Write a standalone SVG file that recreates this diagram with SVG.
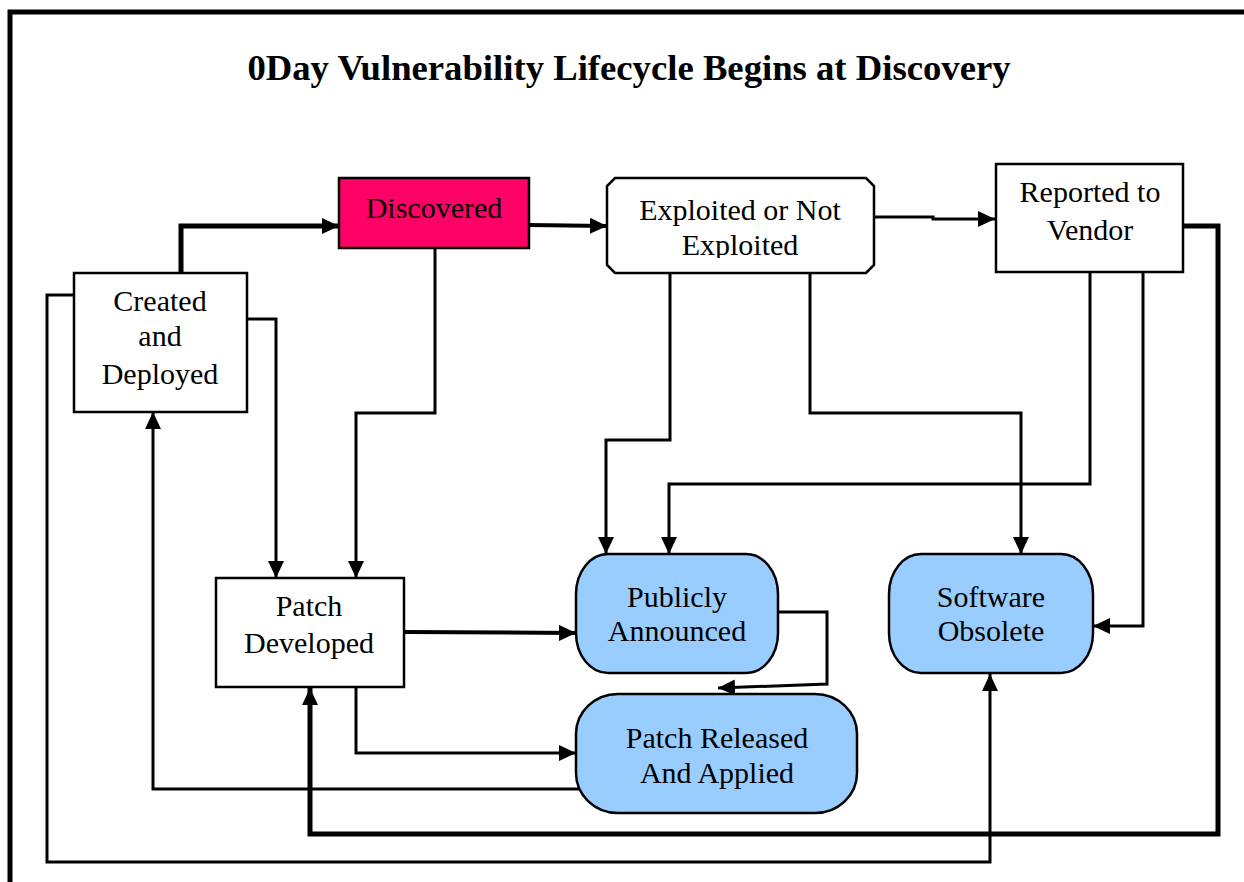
<svg xmlns="http://www.w3.org/2000/svg" width="1244" height="882" viewBox="0 0 1244 882">
<style>
.txt{font-family:"Liberation Serif","Times New Roman",serif;font-size:30px;fill:#000;text-anchor:middle}
.title{font-family:"Liberation Serif","Times New Roman",serif;font-size:36.7px;font-weight:bold;fill:#000;text-anchor:middle}
.box{fill:#fff;stroke:#000;stroke-width:2.5}
.blue{fill:#99CCFF;stroke:#000;stroke-width:2.5}
.c{fill:none;stroke:#000;stroke-width:3;marker-end:url(#arr)}
.thick{stroke-width:5}
.mid{stroke-width:4}
</style>
<defs>
<marker id="arr" markerUnits="userSpaceOnUse" markerWidth="17" markerHeight="16" refX="17" refY="8" orient="auto" viewBox="0 0 17 16">
<path d="M0,0 L17,8 L0,16 z" fill="#000"/>
</marker>
<clipPath id="clipExp"><rect x="600" y="170" width="280" height="88"/></clipPath>
</defs>
<rect x="0" y="0" width="1244" height="882" fill="#fff"/>
<path d="M10,882 V12 H1244" fill="none" stroke="#000" stroke-width="5"/>
<text class="title" x="629" y="80">0Day Vulnerability Lifecycle Begins at Discovery</text>

<g id="connectors">
<path class="c thick" d="M181,272 V226 H339"/>
<path class="c mid" d="M529,225 L607,226"/>
<path class="c" d="M873,217 H933 V219 H995"/>
<path class="c" d="M247,319 H276 V578"/>
<path class="c" d="M435,249 V413 H356 V578"/>
<path class="c" d="M670,272 V440 H606 V554"/>
<path class="c" d="M810,272 V413 H1021 V554"/>
<path class="c" d="M1090,272 V484 H669 V554"/>
<path class="c" d="M1143,272 V626 H1093"/>
<path class="c thick" d="M1184,226 H1218 V834 H310 V688"/>
<path class="c" d="M73,295 H47 V862 H990 V674"/>
<path class="c mid" d="M404,632 L576,633"/>
<path class="c" d="M356,687 V753 H576"/>
<path class="c" d="M778,612 H827 V684 L718,688"/>
<path class="c" d="M584,789 H153 V412"/>
</g>

<g id="node-created">
<rect class="box" x="74" y="273" width="173" height="139"/>
<text class="txt" x="160" y="311">Created</text>
<text class="txt" x="160" y="346">and</text>
<text class="txt" x="160" y="384">Deployed</text>
</g>

<g id="node-discovered">
<rect x="339" y="178" width="190" height="70" fill="#FF0066" stroke="#000" stroke-width="2.5"/>
<text class="txt" x="434" y="218">Discovered</text>
</g>

<g id="node-exploited">
<path class="box" d="M615,178 H866 L874,186 V265 L866,273 H615 L607,265 V186 Z"/>
<g clip-path="url(#clipExp)">
<text class="txt" x="740" y="220">Exploited or Not</text>
<text class="txt" x="740" y="255">Exploited</text>
</g>
</g>

<g id="node-reported">
<rect class="box" x="996" y="164" width="187" height="108"/>
<text class="txt" x="1090" y="202">Reported to</text>
<text class="txt" x="1090" y="240">Vendor</text>
</g>

<g id="node-patch-developed">
<rect class="box" x="216" y="578" width="188" height="109"/>
<text class="txt" x="309" y="616">Patch</text>
<text class="txt" x="309" y="653">Developed</text>
</g>

<g id="node-publicly">
<path class="blue" d="M608,554 H746 A32,40 0 0 1 778,594 V633 A32,40 0 0 1 746,673 H608 A32,40 0 0 1 576,633 V594 A32,40 0 0 1 608,554 Z"/>
<text class="txt" x="677" y="607">Publicly</text>
<text class="txt" x="677" y="641">Announced</text>
</g>

<g id="node-obsolete">
<path class="blue" d="M921,554 H1061 A32,40 0 0 1 1093,594 V633 A32,40 0 0 1 1061,673 H921 A32,40 0 0 1 889,633 V594 A32,40 0 0 1 921,554 Z"/>
<text class="txt" x="991" y="607">Software</text>
<text class="txt" x="991" y="641">Obsolete</text>
</g>

<g id="node-patch-released">
<path class="blue" d="M618,694 H815 A42,40 0 0 1 857,734 V773 A42,40 0 0 1 815,813 H618 A42,40 0 0 1 576,773 V734 A42,40 0 0 1 618,694 Z"/>
<text class="txt" x="717" y="748">Patch Released</text>
<text class="txt" x="717" y="783">And Applied</text>
</g>
</svg>
